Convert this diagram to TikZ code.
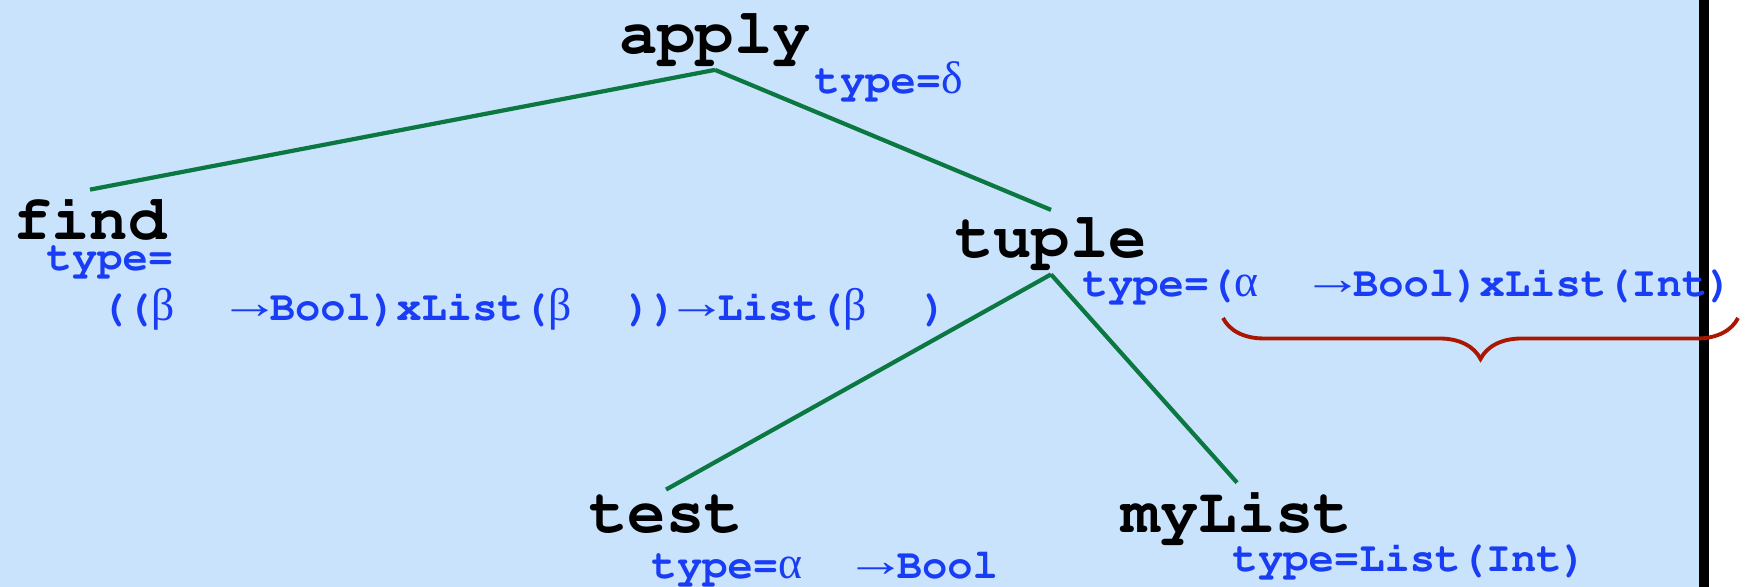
\documentclass[tikz,border=0pt]{standalone}
\usepackage{fontspec}
\setmonofont{Liberation Mono}
\newfontfamily\symf{Liberation Serif}
\usepackage{tikz}
\usetikzlibrary{decorations.pathreplacing}

\definecolor{bgblue}{RGB}{202,227,252}
\definecolor{typeblue}{RGB}{25,60,245}
\definecolor{treegreen}{RGB}{10,120,64}
\definecolor{bracered}{RGB}{170,22,0}

\newcommand{\courb}{\fontencoding{T1}\fontfamily{pcr}\fontseries{b}\selectfont}
\newcommand{\gk}[1]{\makebox[0.6em][l]{\symf\mdseries\fontsize{13pt}{14pt}\selectfont #1}}
\newcommand{\tygap}{\hspace{1.25em}}
\newcommand{\tyarrow}{\makebox[0.96em][c]{\raisebox{0.06em}{\scalebox{1.45}[1.1]{\symf\bfseries →}}}}

\tikzset{
	term/.style={font=\fontsize{18.2pt}{20pt}\courb, inner sep=2pt, anchor=base},
	ty/.style={font=\fontsize{12pt}{13pt}\courb, text=typeblue, inner sep=0pt, anchor=base west},
	branch/.style={draw=treegreen, line width=1.2pt}
}

\begin{document}
\begin{tikzpicture}
	\fill[white] (0,0) rectangle (17.47,5.87);
	\fill[bgblue] (0,0) rectangle (16.99,5.87);
	\fill[black] (16.99,0) rectangle (17.09,5.87);
	\useasboundingbox (0,0) rectangle (17.47,5.87);

	\node[term] (apply) at (7.15,5.335) {apply};
	\node[term] (find) at (0.90,3.47) {find};
	\node[term] (tuple) at (10.51,3.29) {tuple};
	\node[term] (test) at (6.66,0.54) {test};
	\node[term] (mylist) at (12.37,0.54) {myList};

	\node[ty] (tapply) at (8.14,4.93) {type=\gk{δ}};
	\node[ty] (tfind) at (0.46,3.16) {type=};
	\node[ty] (tfind2) at (1.00,2.66) {((\gk{β}\tygap\tyarrow Bool)xList(\gk{β}\tygap))\tyarrow List(\gk{β}\tygap)};
	\node[ty] (ttuple) at (10.82,2.90) {type=(\gk{α}\tygap\tyarrow Bool)xList(Int)};
	\node[ty] (ttest) at (6.51,0.08) {type=\gk{α}\tygap\tyarrow Bool};
	\node[ty] (tmylist) at (12.32,0.15) {type=List(Int)};

	\path (apply.south) edge[branch] (find.north);
	\path (apply.south) edge[branch] (tuple.north);
	\path (tuple.south) edge[branch] (test.north);
	\path (tuple.south) edge[branch] (mylist.north);

	\draw[bracered, line width=1.1pt, decorate, decoration={brace, mirror, amplitude=0.41cm}] (12.23,2.69) -- (17.38,2.69);
\end{tikzpicture}
\end{document}
